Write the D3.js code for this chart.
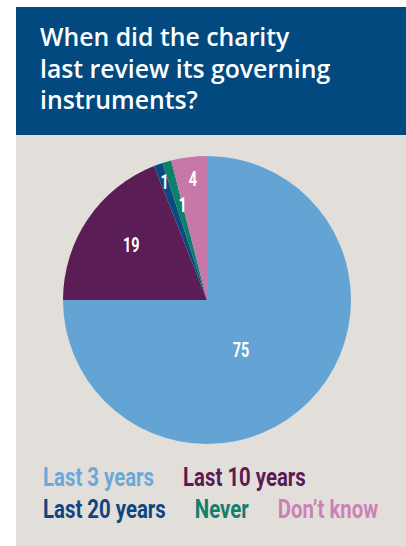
<!DOCTYPE html>
<html>
<head>
<meta charset="utf-8">
<script src="https://cdn.jsdelivr.net/npm/d3@7/dist/d3.min.js"></script>
<style>
  html, body { margin: 0; padding: 0; background: #ffffff; }
  svg { display: block; }
</style>
</head>
<body>
<svg id="chart" width="406" height="546"></svg>
<script>
// Survey answers: share of charities by when they last reviewed their governing instruments
const categories = ["Last 3 years", "Last 10 years", "Last 20 years", "Never", "Don\u2019t know"];
const values = [75, 19, 1, 1, 4];
const sliceColors = ["#64a4d5", "#5a1d55", "#0b4a81", "#0d806b", "#c778ab"];
const legendColors = ["#6aa8d8", "#5c1a55", "#0e467d", "#127f6d", "#cc82b4"];
const titleLines = ["When did the charity", "last review its governing", "instruments?"];

const W = 406, H = 546;
const svg = d3.select("#chart");

// Panel background and title bar
svg.append("rect").attr("x", 16).attr("y", 7).attr("width", W - 16).attr("height", H - 7)
  .attr("fill", "#e2dfdb");
svg.append("rect").attr("x", 16).attr("y", 7).attr("width", W - 16).attr("height", 128)
  .attr("fill", "#02497f");

svg.append("g").selectAll("text").data(titleLines).join("text")
  .attr("x", 40).attr("y", (d, i) => 46 + i * 31.5)
  .attr("fill", "#ffffff")
  .attr("font-family", "'Open Sans', sans-serif")
  .attr("font-weight", 600)
  .attr("font-size", 24.8)
  .text(d => d);

// Pie
const cx = 207, cy = 300, r = 144;
const pie = d3.pie().sort(null).value(d => d.value);
const arcs = pie(categories.map((c, i) => ({ cat: c, value: values[i], i })));
const arc = d3.arc().innerRadius(0).outerRadius(r);

const g = svg.append("g").attr("transform", `translate(${cx},${cy})`);
g.selectAll("path").data(arcs).join("path")
  .attr("d", arc)
  .attr("fill", d => sliceColors[d.data.i]);

// Value label placement: fraction of the radius and angular nudge (radians) per slice
const labelRadius = [0.42, 0.65, 0.87, 0.68, 0.85];
const labelNudge = [0.19, 0.03, 0.0, 0.03, 0.01];
const condensed = 0.72;
g.selectAll("text.val").data(arcs).join("text")
  .attr("class", "val")
  .attr("transform", d => {
    const a = (d.startAngle + d.endAngle) / 2 + labelNudge[d.data.i];
    const rr = r * labelRadius[d.data.i];
    return `translate(${Math.sin(a) * rr},${-Math.cos(a) * rr}) scale(${condensed},1)`;
  })
  .attr("text-anchor", "middle")
  .attr("dy", "0.36em")
  .attr("fill", "#ffffff")
  .attr("font-family", "Roboto, sans-serif")
  .attr("font-weight", 700)
  .attr("font-size", 20)
  .text(d => d.data.value);

// Legend, flowed in two rows
const legendRows = [[0, 1], [2, 3, 4]];
const legendSquash = 0.815;
const gap = 29;
legendRows.forEach((row, ri) => {
  let x = 43;
  const y = 486 + ri * 32;
  row.forEach(idx => {
    const t = svg.append("text")
      .attr("fill", legendColors[idx])
      .attr("font-family", "Roboto, sans-serif")
      .attr("font-weight", 700)
      .attr("font-size", 25)
      .text(categories[idx]);
    const w = t.node().getComputedTextLength() * legendSquash;
    t.attr("transform", `translate(${x},${y}) scale(${legendSquash},1)`);
    x += w + gap;
  });
});
</script>
</body>
</html>
